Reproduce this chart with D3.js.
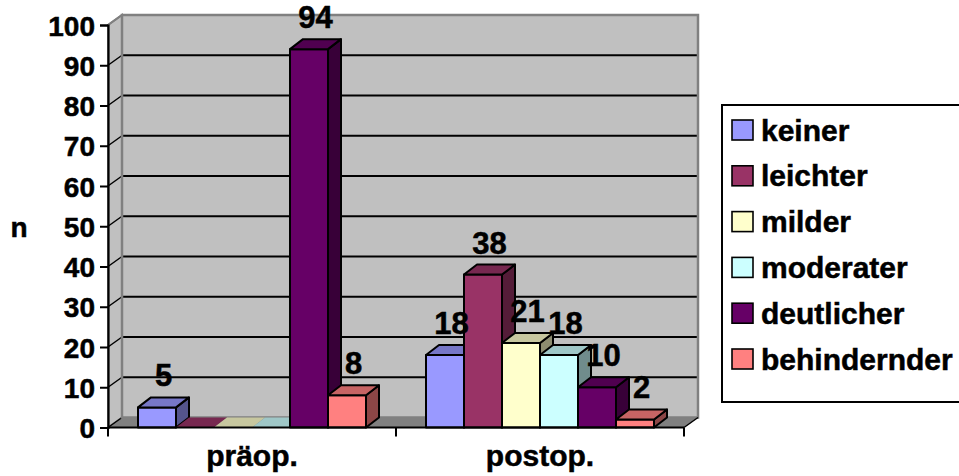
<!DOCTYPE html>
<html>
<head>
<meta charset="utf-8">
<script src="https://cdn.jsdelivr.net/npm/d3@7"></script>
<style>
  html, body { margin: 0; padding: 0; background: #fff; }
  svg text { font-family: Arial, "Liberation Sans", sans-serif; font-weight: bold; fill: #000; stroke: #000; stroke-width: 0.5px; }
</style>
</head>
<body>
<svg id="chart" width="959" height="476"></svg>
<script>
// Patients per severity grade, before and after surgery
const categories = ["präop.", "postop."];
const seriesNames = ["keiner", "leichter", "milder", "moderater", "deutlicher", "behindernder"];
const keiner = [5, 18];
const leichter = [0, 38];
const milder = [0, 21];
const moderater = [0, 18];
const deutlicher = [94, 10];
const behindernder = [8, 2];
const yTicks = [0, 10, 20, 30, 40, 50, 60, 70, 80, 90, 100];
const yLabel = "n";

const seriesValues = [keiner, leichter, milder, moderater, deutlicher, behindernder];
const seriesColors = ["#9999FF", "#993366", "#FFFFCC", "#CCFFFF", "#660066", "#FF8080"];

const svg = d3.select("#chart");

// plot frame (front plane) and 3-D depth offsets
const plotL = 108, plotR = 684, plotB = 427.5, plotT = 25;
const wallDx = 14, wallDy = -10;   // depth of walls / floor
const barDx = 13, barDy = -10;     // depth of each column
const groupGap = 30;

const y = d3.scaleLinear().domain([0, 100]).range([plotB, plotT]);
const x0 = d3.scaleBand().domain(categories).range([plotL, plotR]);
const x1 = d3.scaleBand().domain(seriesNames)
  .range([groupGap, x0.bandwidth() - groupGap]);

const shade = (c, k) => { const r = d3.rgb(c); return d3.rgb(r.r * k, r.g * k, r.b * k).formatHex(); };
const pts = a => a.map(p => p.join(",")).join(" ");

// ---- walls and floor ----
const walls = svg.append("g");
// floor
walls.append("polygon")
  .attr("points", pts([[plotL, plotB], [plotR, plotB], [plotR + wallDx, plotB + wallDy], [plotL + wallDx, plotB + wallDy]]))
  .attr("fill", "#808080");
// side wall
walls.append("polygon")
  .attr("points", pts([[plotL, plotB], [plotL, plotT], [plotL + wallDx, plotT + wallDy], [plotL + wallDx, plotB + wallDy]]))
  .attr("fill", "#C0C0C0").attr("stroke", "#808080").attr("stroke-width", 2);
// back wall
walls.append("rect")
  .attr("x", plotL + wallDx).attr("y", plotT + wallDy)
  .attr("width", plotR - plotL).attr("height", plotB - plotT)
  .attr("fill", "#C0C0C0");

// gridlines on back wall and side wall
const gridVals = yTicks.filter(v => v > 0 && v < 100);
walls.selectAll("line.grid-back").data(gridVals).join("line")
  .attr("class", "grid-back")
  .attr("x1", plotL + wallDx).attr("x2", plotR + wallDx)
  .attr("y1", d => y(d) + wallDy).attr("y2", d => y(d) + wallDy)
  .attr("stroke", "#000").attr("stroke-width", 2);
walls.selectAll("line.grid-side").data(gridVals.concat([0])).join("line")
  .attr("class", "grid-side")
  .attr("x1", plotL).attr("x2", plotL + wallDx)
  .attr("y1", d => y(d)).attr("y2", d => y(d) + wallDy)
  .attr("stroke", "#000").attr("stroke-width", 1.5);

// back wall border
walls.append("rect")
  .attr("x", plotL + wallDx).attr("y", plotT + wallDy)
  .attr("width", plotR - plotL).attr("height", plotB - plotT)
  .attr("fill", "none").attr("stroke", "#808080").attr("stroke-width", 2.5);
walls.append("line")
  .attr("x1", plotL).attr("y1", plotT).attr("x2", plotL + wallDx).attr("y2", plotT + wallDy)
  .attr("stroke", "#808080").attr("stroke-width", 2);
// floor right edge
walls.append("line")
  .attr("x1", plotR).attr("y1", plotB).attr("x2", plotR + wallDx).attr("y2", plotB + wallDy)
  .attr("stroke", "#000").attr("stroke-width", 1.5);

// ---- columns ----
const bars = [];
categories.forEach((c, ci) => {
  seriesNames.forEach((s, si) => {
    bars.push({ cat: c, series: s, value: seriesValues[si][ci], color: seriesColors[si] });
  });
});

const barG = svg.append("g");
bars.forEach(b => {
  const xf = x0(b.cat) + x1(b.series);
  const w = x1.bandwidth();
  const yt = y(b.value), yb = y(0);
  const g = barG.append("g").attr("stroke", "#000").attr("stroke-width", 2).attr("stroke-linejoin", "round");
  if (b.value > 0) {
    g.append("polygon")
      .attr("points", pts([[xf + w, yt], [xf + w, yb], [xf + w + barDx, yb + barDy], [xf + w + barDx, yt + barDy]]))
      .attr("fill", shade(b.color, 0.55));
    g.append("rect")
      .attr("x", xf).attr("y", yt).attr("width", w).attr("height", yb - yt)
      .attr("fill", b.color);
  }
  g.append("polygon")
    .attr("points", pts([[xf, yt], [xf + w, yt], [xf + w + barDx, yt + barDy], [xf + barDx, yt + barDy]]))
    .attr("fill", shade(b.color, 0.78))
    .attr("stroke-width", b.value > 0 ? 2 : 0);
});

// ---- axes ----
const yAxis = svg.append("g")
  .attr("transform", `translate(${plotL},0)`)
  .call(d3.axisLeft(y).tickValues(yTicks).tickSize(8).tickPadding(5));
yAxis.select(".domain").attr("stroke", "#000").attr("stroke-width", 2.2);
yAxis.selectAll(".tick line").attr("stroke", "#000").attr("stroke-width", 2);
yAxis.selectAll(".tick text")
  .attr("font-size", 28).attr("font-family", "Arial, 'Liberation Sans', sans-serif")
  .attr("font-weight", "bold").attr("dy", "0.36em");

// x axis line with ticks at category boundaries
const xAxis = svg.append("g");
xAxis.append("line")
  .attr("x1", plotL).attr("x2", plotR).attr("y1", plotB).attr("y2", plotB)
  .attr("stroke", "#000").attr("stroke-width", 2.2);
const boundaries = categories.map(c => x0(c)).concat([x0.range()[1]]);
xAxis.selectAll("line.tick").data(boundaries).join("line")
  .attr("class", "tick")
  .attr("x1", d => d).attr("x2", d => d)
  .attr("y1", plotB).attr("y2", plotB + 9)
  .attr("stroke", "#000").attr("stroke-width", 2);
const xLabels = svg.append("g")
  .attr("transform", `translate(0,${plotB})`)
  .call(d3.axisBottom(x0).tickSize(0).tickPadding(0));
xLabels.select(".domain").remove();
xLabels.selectAll(".tick text")
  .attr("font-size", 30).attr("font-family", "Arial, 'Liberation Sans', sans-serif")
  .attr("font-weight", "bold").attr("dy", null).attr("y", 38);

// y axis title
svg.append("text").attr("x", 19).attr("y", 237)
  .attr("text-anchor", "middle").attr("font-size", 28).text(yLabel);

// ---- data labels ----
svg.append("g").selectAll("text").data(bars.filter(b => b.value > 0)).join("text")
  .attr("x", b => x0(b.cat) + x1(b.series) + x1.bandwidth() / 2 + barDx / 2)
  .attr("y", b => y(b.value) + barDy - 11)
  .attr("text-anchor", "middle").attr("font-size", 31)
  .text(b => b.value);

// ---- legend ----
const legend = svg.append("g");
legend.append("rect")
  .attr("x", 722).attr("y", 105).attr("width", 250).attr("height", 297)
  .attr("fill", "#fff").attr("stroke", "#000").attr("stroke-width", 2);
const items = legend.selectAll("g.item").data(seriesNames).join("g")
  .attr("class", "item")
  .attr("transform", (d, i) => `translate(732,${130 + i * 45.8})`);
items.append("rect")
  .attr("x", 0).attr("y", -10).attr("width", 21).attr("height", 20)
  .attr("fill", (d, i) => seriesColors[i]).attr("stroke", "#000").attr("stroke-width", 1.6);
items.append("text")
  .attr("x", 29).attr("y", 10.5).attr("font-size", 30).text(d => d);
</script>
</body>
</html>
